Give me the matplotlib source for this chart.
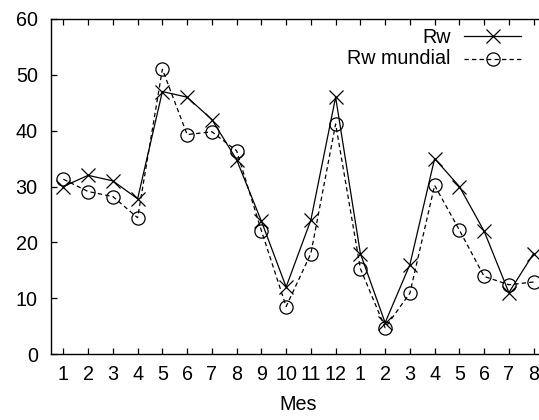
import matplotlib
matplotlib.use('Agg')
import matplotlib.pyplot as plt
from matplotlib.lines import Line2D

plt.rcParams['font.family'] = ['Liberation Sans', 'DejaVu Sans']

# monthly series, Jan of one year through Aug of the next
meses = [1, 2, 3, 4, 5, 6, 7, 8, 9, 10, 11, 12, 1, 2, 3, 4, 5, 6, 7, 8]
rw = [30, 32, 31, 27.8, 47, 46, 42, 34.8, 23.8, 12, 24, 46,
      18, 5.6, 16, 35, 30, 22, 11, 18]
rw_mundial = [31.3, 29.1, 28.2, 24.4, 51, 39.3, 39.8, 36.4, 22.1, 8.5, 18, 41.2,
              15.3, 4.7, 10.9, 30.2, 22.2, 13.9, 12.4, 12.9]

x = list(range(1, len(meses) + 1))

fig = plt.figure(figsize=(5.39, 4.2), dpi=100)
# the frame runs a little past the right edge of the canvas
ax = fig.add_axes([51/539, 66/420, 495/539, 335/420])

fs = 14.2
dash = (0, (3.5, 2.5))
ax.plot(x, rw, color='black', lw=0.9, marker='x', ms=10.5, mew=0.9)
ax.plot(x, rw_mundial, color='black', lw=0.9, ls=dash,
        marker='o', ms=9.5, mew=0.9, mfc='none')

ax.set_xlim(0.5, len(meses) + 0.5)
ax.set_ylim(0, 60)
ax.set_xticks(x, labels=[str(m) for m in meses])
ax.set_yticks(range(0, 61, 10))
ax.tick_params(direction='in', length=4.5, width=0.9, top=True, right=True,
               labelsize=fs)
ax.tick_params(axis='x', pad=7.8)
ax.tick_params(axis='y', pad=9.5)
ax.set_xlabel('Mes', fontsize=fs, labelpad=8)
for s in ax.spines.values():
    s.set_linewidth(1.0)

# gnuplot-style key: right-aligned text followed by the sample
rows = [('Rw', '-', 'x', 10.5, 'black'),
        ('Rw mundial', dash, 'o', 9.5, 'none')]
key_text = [0.9275, 0.865]
key_line = [0.949, 0.880]
for (label, ls, mk, ms, mfc), yt, yl in zip(rows, key_text, key_line):
    ax.text(399.7/495, yt, label, transform=ax.transAxes, ha='right',
            va='baseline', fontsize=fs)
    ax.add_line(Line2D([413/495, 469.7/495], [yl, yl], transform=ax.transAxes,
                       color='black', lw=0.9, ls=ls, clip_on=False))
    ax.add_line(Line2D([441.7/495], [yl], transform=ax.transAxes, color='black',
                       marker=mk, ms=ms, mew=0.9, mfc=mfc, ls='none',
                       clip_on=False))

fig.savefig('out.png', dpi=100)
